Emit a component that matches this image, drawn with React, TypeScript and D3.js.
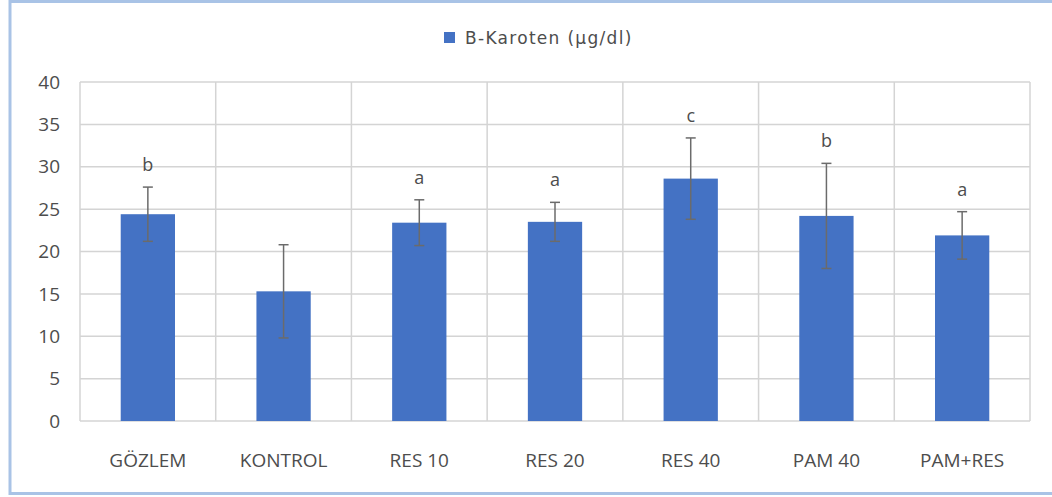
import React from "react";
import * as d3 from "d3";

const categories = ["GÖZLEM", "KONTROL", "RES 10", "RES 20", "RES 40", "PAM 40", "PAM+RES"];
const values = [24.4, 15.3, 23.4, 23.5, 28.6, 24.2, 21.9];
const errors = [3.2, 5.5, 2.7, 2.3, 4.8, 6.2, 2.8];
const letters = ["b", "", "a", "a", "c", "b", "a"];
const yTicks = [0, 5, 10, 15, 20, 25, 30, 35, 40];
const seriesName = "B-Karoten (µg/dl)";

const W = 1052;
const H = 497;
const left = 80;
const right = 1030;
const top = 82;
const bottom = 421;

export default function App() {
  const x = d3.scaleBand<string>().domain(categories).range([left, right]).paddingInner(0.6).paddingOuter(0.3);
  const y = d3.scaleLinear().domain([0, 40]).range([bottom, top]);
  const step = x.step();
  const font = "'Open Sans', sans-serif";
  const grey = "#4d4d4d";

  return (
    <svg width={W} height={H} style={{ position: "absolute", left: 0, top: 0 }}>
      <rect x={0} y={0} width={W} height={H} fill="#fff" />
      <rect x={10} y={1.5} width={W + 20} height={492} fill="none" stroke="#a9c3e6" strokeWidth={3} />
      {/* grid */}
      {yTicks.map((t) => (
        <line key={"h" + t} x1={left} x2={right} y1={y(t)} y2={y(t)} stroke="#d4d4d4" strokeWidth={1.5} />
      ))}
      {d3.range(categories.length + 1).map((i) => (
        <line key={"v" + i} x1={left + i * step} x2={left + i * step} y1={top} y2={bottom} stroke="#d4d4d4" strokeWidth={1.5} />
      ))}
      {yTicks.map((t) => (
        <text key={"t" + t} x={60} y={y(t)} dy="0.35em" textAnchor="end" fontFamily={font} fontSize={19} fill={grey}>
          {t}
        </text>
      ))}
      {categories.map((c, i) => {
        const cx = x(c)! + x.bandwidth() / 2;
        const v = values[i];
        const e = errors[i];
        return (
          <g key={c}>
            <rect x={x(c)} y={y(v)} width={x.bandwidth()} height={y(0) - y(v)} fill="#4472c4" />
            <line x1={cx} x2={cx} y1={y(v + e)} y2={y(v - e)} stroke="#6b6b6b" strokeWidth={1.5} />
            <line x1={cx - 5} x2={cx + 5} y1={y(v + e)} y2={y(v + e)} stroke="#6b6b6b" strokeWidth={1.5} />
            <line x1={cx - 5} x2={cx + 5} y1={y(v - e)} y2={y(v - e)} stroke="#6b6b6b" strokeWidth={1.5} />
            {letters[i] && (
              <text x={cx} y={y(v + e) - 16} textAnchor="middle" fontFamily={font} fontSize={18} fill={grey}>
                {letters[i]}
              </text>
            )}
            <text x={cx} y={467} textAnchor="middle" fontFamily={font} fontSize={19} fill={grey}>
              {c}
            </text>
          </g>
        );
      })}
      {/* legend */}
      <rect x={444} y={32} width={11} height={11} fill="#4472c4" />
      <text x={465} y={44} fontFamily="'DejaVu Sans', sans-serif" fontSize={17} letterSpacing={1.3} fill={grey}>
        {seriesName}
      </text>
    </svg>
  );
}
